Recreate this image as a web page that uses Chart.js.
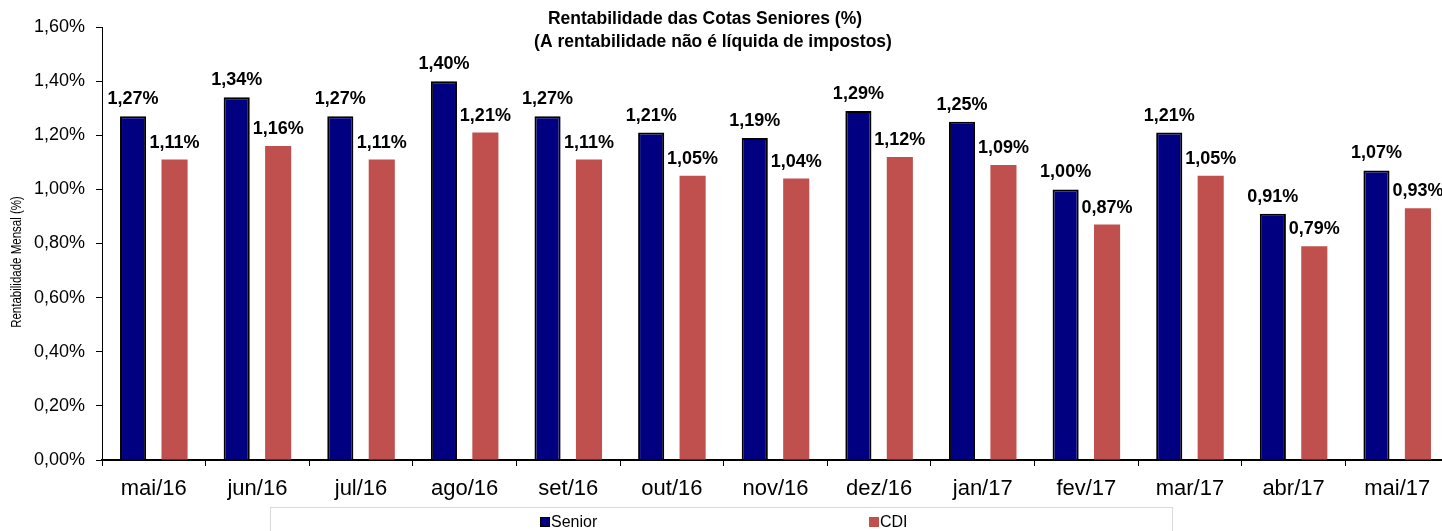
<!DOCTYPE html>
<html>
<head>
<meta charset="utf-8">
<script src="https://cdn.jsdelivr.net/npm/chart.js@4"></script>
<style>
  html, body { margin: 0; padding: 0; background: #fff; overflow: hidden; }
  #wrap { width: 1450px; height: 531px; }
</style>
</head>
<body>
<div id="wrap"><canvas id="myChart" width="1450" height="531"></canvas></div>
<script>
// categorias (meses) e séries
const meses = ["mai/16", "jun/16", "jul/16", "ago/16", "set/16", "out/16", "nov/16",
  "dez/16", "jan/17", "fev/17", "mar/17", "abr/17", "mai/17"];
const senior = [1.27, 1.34, 1.27, 1.40, 1.27, 1.21, 1.19, 1.29, 1.25, 1.00, 1.21, 0.91, 1.07];
const cdi = [1.11, 1.16, 1.11, 1.21, 1.11, 1.05, 1.04, 1.12, 1.09, 0.87, 1.05, 0.79, 0.93];
const titulo = ["Rentabilidade das Cotas Seniores (%)", "(A rentabilidade não é líquida de impostos)"];
const tituloY = "Rentabilidade Mensal (%)";
const FONT = "'Liberation Sans', Arial, sans-serif";

const fmt = v => v.toFixed(2).replace(".", ",") + "%";

// rótulos em cima das barras
const rotulos = {
  id: "rotulos",
  afterDatasetsDraw(chart) {
    const c = chart.ctx;
    c.save();
    c.font = "bold 18px " + FONT;
    c.fillStyle = "#000";
    c.textAlign = "center";
    c.textBaseline = "alphabetic";
    chart.data.datasets.forEach((ds, i) => {
      chart.getDatasetMeta(i).data.forEach((bar, j) => {
        c.fillText(fmt(ds.data[j]), bar.x, bar.y - 12);
      });
    });
    c.restore();
  }
};

// título, título do eixo Y e legenda desenhados à mão
const extras = {
  id: "extras",
  afterDraw(chart) {
    const c = chart.ctx;
    c.save();
    c.fillStyle = "#000";
    c.textAlign = "center";
    c.textBaseline = "middle";
    c.font = "bold 17.5px " + FONT;
    c.fillText(titulo[0], 705, 19);
    c.fillText(titulo[1], 713, 42);

    // eixo Y (o original está esticado na horizontal)
    c.save();
    c.translate(17, 262);
    c.rotate(-Math.PI / 2);
    c.scale(1, 1.3);
    c.font = "11.5px " + FONT;
    c.fillText(tituloY, 0, 0);
    c.restore();

    // caixa da legenda
    c.strokeStyle = "#d9d9d9";
    c.lineWidth = 1;
    c.strokeRect(270.5, 507.5, 902, 40);
    c.font = "16px " + FONT;
    c.textAlign = "left";
    c.fillStyle = "#000080";
    c.fillRect(540, 517, 10, 10);
    c.strokeStyle = "#000";
    c.strokeRect(540.5, 517.5, 9, 9);
    c.fillStyle = "#000";
    c.fillText("Senior", 551, 523);
    c.fillStyle = "#C0504D";
    c.fillRect(869, 517, 10, 10);
    c.fillStyle = "#000";
    c.fillText("CDI", 880, 523);
    c.restore();
  }
};

const ctx = document.getElementById("myChart").getContext("2d");

const myChart = new Chart(ctx, {
  type: "bar",
  data: {
    labels: meses,
    datasets: [
      {
        label: "Senior",
        data: senior,
        backgroundColor: "#000080",
        borderColor: "#000",
        borderWidth: 2,
        borderSkipped: "bottom",
        categoryPercentage: 0.8,
        barPercentage: 0.63
      },
      {
        label: "CDI",
        data: cdi,
        backgroundColor: "#C0504D",
        borderWidth: 0,
        categoryPercentage: 0.8,
        barPercentage: 0.63
      }
    ]
  },
  options: {
    responsive: false,
    animation: false,
    layout: { padding: { top: 27, right: 1, left: 0, bottom: 0 } },
    plugins: {
      legend: { display: false },
      tooltip: { enabled: false }
    },
    scales: {
      x: {
        grid: { drawOnChartArea: false, color: "#000", tickLength: 6, offset: true },
        border: { color: "#000", width: 2 },
        ticks: { color: "#000", font: { family: FONT, size: 22 }, padding: 10, maxRotation: 0 },
        afterFit(scale) { scale.height = 71; }
      },
      y: {
        min: 0,
        max: 1.6,
        ticks: {
          stepSize: 0.2,
          color: "#000",
          font: { family: FONT, size: 18 },
          padding: 11,
          callback: v => fmt(v)
        },
        grid: { drawOnChartArea: false, color: "#000", tickLength: 6 },
        border: { color: "#000", width: 1 },
        afterFit(scale) { scale.width = 102; }
      }
    }
  },
  plugins: [rotulos, extras]
});
</script>
</body>
</html>
